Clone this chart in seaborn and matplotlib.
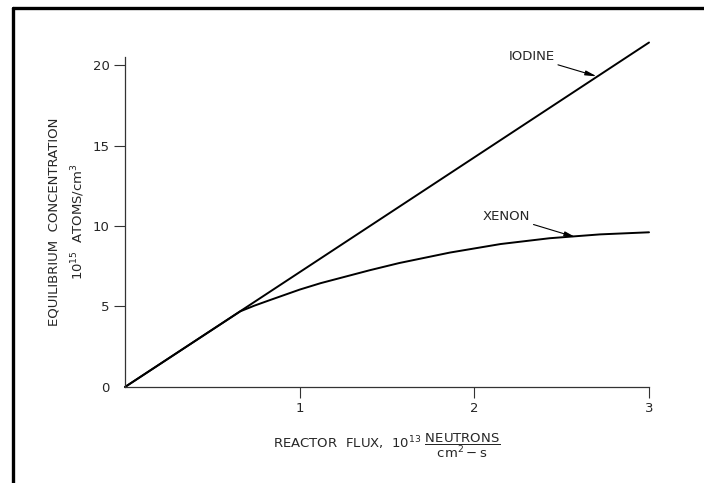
import matplotlib
matplotlib.use("Agg")
import matplotlib.pyplot as plt
from matplotlib.lines import Line2D
import seaborn as sns
import pandas as pd

# values (flux in 1e13 n/cm2-s, conc in 1e15 atoms/cm3)
iodine_flux = [0.0, 3.0]
iodine_conc = [0.0, 21.4]

xenon_flux = [0.0, 0.66, 0.74, 0.83, 1.0, 1.12, 1.40, 1.57, 1.86, 2.15, 2.43, 2.72, 3.0]
xenon_conc = [0.0, 4.7, 5.05, 5.4, 6.05, 6.45, 7.25, 7.7, 8.35, 8.88, 9.24, 9.48, 9.61]

x_ticks = [1, 2, 3]
y_ticks = [0, 5, 10, 15, 20]

sns.set_style("ticks")
plt.rcParams["font.family"] = ["DejaVu Sans"]
plt.rcParams["mathtext.default"] = "regular"

df_i = pd.DataFrame({"flux": iodine_flux, "conc": iodine_conc})
df_x = pd.DataFrame({"flux": xenon_flux, "conc": xenon_conc})

fig = plt.figure(figsize=(7.04, 4.83), dpi=100)
ax = fig.add_axes([0.1776, 0.1988, 0.7443, 0.6832])

sns.lineplot(data=df_i, x="flux", y="conc", color="black", lw=1.4, ax=ax, clip_on=False)
sns.lineplot(data=df_x, x="flux", y="conc", color="black", lw=1.4, ax=ax, clip_on=False)

ax.set_xlim(0, 3)
ax.set_ylim(0, 20.5)
ax.set_xticks(x_ticks)
ax.set_yticks(y_ticks)
ax.tick_params(axis="both", direction="out", length=8, width=0.8, color="#333333",
               labelsize=9.5, pad=3)
ax.yaxis.get_major_ticks()[0].tick1line.set_visible(False)
sns.despine(ax=ax)
for s in ["left", "bottom"]:
    ax.spines[s].set_linewidth(0.9)
    ax.spines[s].set_color("#333333")

ax.set_ylabel("EQUILIBRIUM  CONCENTRATION\n$10^{15}$  ATOMS/cm$^{3}$",
              fontsize=9.5, linespacing=1.7, labelpad=4)
ax.set_xlabel(r"REACTOR  FLUX,  $10^{13}$ $\dfrac{NEUTRONS}{cm^{2}-s}$",
              fontsize=9.5, labelpad=12)

arrow = dict(arrowstyle="-|>,head_length=0.7,head_width=0.15", color="black",
             lw=0.8, shrinkA=0, shrinkB=0)
ax.annotate("IODINE", xy=(2.70, 19.3), xytext=(2.46, 20.5), fontsize=9.5,
            ha="right", va="center", arrowprops=arrow, annotation_clip=False)
ax.annotate("XENON", xy=(2.58, 9.3), xytext=(2.32, 10.6), fontsize=9.5,
            ha="right", va="center", arrowprops=arrow, annotation_clip=False)

# heavy frame on left and top edges like the scanned figure
fx = 13 / 704
fy = 1 - 8 / 483
fig.add_artist(Line2D([fx, fx], [0, fy], transform=fig.transFigure, color="black", lw=2.4))
fig.add_artist(Line2D([fx, 1], [fy, fy], transform=fig.transFigure, color="black", lw=2.4))

fig.savefig("out.png", dpi=100)
